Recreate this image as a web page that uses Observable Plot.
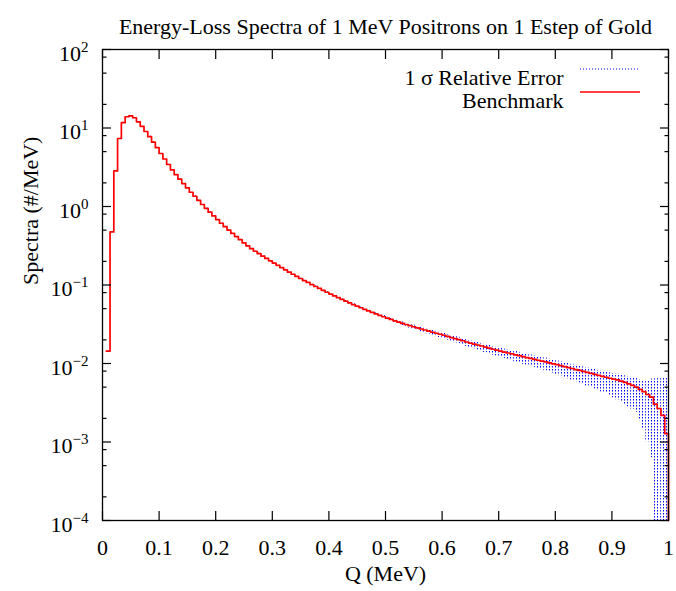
<!DOCTYPE html>
<html><head><meta charset="utf-8">
<script src="https://cdn.jsdelivr.net/npm/d3@7"></script>
<script src="https://cdn.jsdelivr.net/npm/@observablehq/plot@0.6"></script>
<style>
html,body{margin:0;padding:0;background:#fff;}
</style></head><body><div id="chart"></div>
<script>
const title = "Energy-Loss Spectra of 1 MeV Positrons on 1 Estep of Gold";
const xLabel = "Q (MeV)";
const yLabel = "Spectra (#/MeV)";
const seriesNames = ["1 \u03c3 Relative Error", "Benchmark"];
const nBins = 150;      // bins of width 1/150 MeV
const firstBin = 1;     // bin 0 is empty
// Benchmark spectrum, bins 1..149 (#/MeV)
const spectrum = [
  0.0144, 0.475, 2.84, 7.35, 11.7, 13.9, 14.3, 13.5, 12.0, 10.5,
  9.02, 7.76, 6.61, 5.62, 4.73, 4.03, 3.43, 2.92, 2.54, 2.23,
  1.96, 1.73, 1.52, 1.35, 1.20, 1.06, 0.948, 0.847, 0.759, 0.681,
  0.612, 0.553, 0.501, 0.455, 0.414, 0.378, 0.345, 0.316, 0.290, 0.269,
  0.251, 0.233, 0.218, 0.203, 0.190, 0.178, 0.166, 0.156, 0.146, 0.137,
  0.129, 0.121, 0.114, 0.108, 0.101, 0.0957, 0.0904, 0.0855, 0.0809, 0.0766,
  0.0726, 0.0689, 0.0655, 0.0622, 0.0592, 0.0564, 0.0537, 0.0513, 0.0490, 0.0468,
  0.0448, 0.0429, 0.0411, 0.0394, 0.0378, 0.0364, 0.0350, 0.0337, 0.0325, 0.0314,
  0.0303, 0.0294, 0.0284, 0.0275, 0.0267, 0.0258, 0.0250, 0.0243, 0.0236, 0.0229,
  0.0221, 0.0214, 0.0207, 0.0201, 0.0195, 0.0188, 0.0182, 0.0177, 0.0172, 0.0167,
  0.0162, 0.0157, 0.0152, 0.0148, 0.0144, 0.0140, 0.0136, 0.0133, 0.0129, 0.0126,
  0.0122, 0.0119, 0.0116, 0.0113, 0.0110, 0.0107, 0.0105, 0.0102, 0.00991, 0.00966,
  0.00940, 0.00912, 0.00887, 0.00863, 0.00838, 0.00815, 0.00793, 0.00769, 0.00748, 0.00728,
  0.00706, 0.00687, 0.00668, 0.00649, 0.00631, 0.00617, 0.00596, 0.00575, 0.00550, 0.00525,
  0.00501, 0.00468, 0.00437, 0.00403, 0.00372, 0.00303, 0.00267, 0.00219, 0.00128
];
// relative 1-sigma error, upper side of the band
const relErrUp = [
  0.01,0.01,0.01,0.01,0.01,0.01,0.01,0.01,0.01,0.01,
  0.01,0.01,0.01,0.01,0.01,0.01,0.01,0.01,0.01,0.01,
  0.012,0.012,0.012,0.012,0.012,0.012,0.012,0.012,0.012,0.012,
  0.012,0.012,0.012,0.012,0.012,0.012,0.012,0.012,0.012,0.012,
  0.015,0.015,0.015,0.015,0.015,0.015,0.015,0.015,0.015,0.015,
  0.015,0.015,0.015,0.015,0.015,0.015,0.015,0.015,0.015,0.015,
  0.02,0.02,0.02,0.02,0.02,0.02,0.02,0.02,0.02,0.02,
  0.025,0.025,0.03,0.03,0.03,0.035,0.035,0.035,0.04,0.04,
  0.04,0.045,0.045,0.05,0.05,0.05,0.055,0.055,0.06,0.06,
  0.06,0.065,0.065,0.07,0.07,0.07,0.075,0.075,0.08,0.08,
  0.08,0.085,0.085,0.09,0.09,0.09,0.095,0.095,0.10,0.10,
  0.10,0.105,0.105,0.11,0.11,0.11,0.115,0.115,0.12,0.12,
  0.12,0.125,0.13,0.13,0.135,0.14,0.14,0.145,0.15,0.15,
  0.155,0.16,0.16,0.17,0.18,0.19,0.2,0.21,0.23,0.25,
  0.28,0.32,0.38,0.5,0.7,1.1,1.4,2.0,4.0
];
// relative 1-sigma error, lower side of the band
const relErrDown = [
  0.01,0.01,0.01,0.01,0.01,0.01,0.01,0.01,0.01,0.01,
  0.01,0.01,0.01,0.01,0.01,0.01,0.01,0.01,0.01,0.01,
  0.012,0.012,0.012,0.012,0.012,0.012,0.012,0.012,0.012,0.012,
  0.012,0.012,0.012,0.012,0.012,0.012,0.012,0.012,0.012,0.012,
  0.02,0.02,0.02,0.02,0.02,0.02,0.02,0.02,0.02,0.02,
  0.02,0.02,0.02,0.02,0.02,0.02,0.02,0.02,0.02,0.02,
  0.03,0.03,0.03,0.03,0.03,0.03,0.03,0.03,0.03,0.03,
  0.035,0.04,0.04,0.045,0.045,0.05,0.05,0.055,0.06,0.06,
  0.065,0.07,0.07,0.075,0.08,0.08,0.085,0.09,0.09,0.095,
  0.10,0.10,0.11,0.11,0.12,0.12,0.13,0.13,0.14,0.14,
  0.15,0.15,0.16,0.16,0.17,0.17,0.18,0.18,0.19,0.19,
  0.20,0.20,0.21,0.21,0.22,0.22,0.23,0.23,0.24,0.25,
  0.26,0.27,0.28,0.29,0.30,0.31,0.32,0.33,0.34,0.35,
  0.36,0.37,0.38,0.40,0.42,0.44,0.46,0.48,0.49,0.50,
  0.52,0.60,0.67,0.75,0.83,1.0,1.0,1.0,1.0
];
const xTicks = [0, 0.1, 0.2, 0.3, 0.4, 0.5, 0.6, 0.7, 0.8, 0.9, 1];
const xTickLabels = ["0", "0.1", "0.2", "0.3", "0.4", "0.5", "0.6", "0.7", "0.8", "0.9", "1"];
const yMajorTicks = [1e-4, 1e-3, 1e-2, 1e-1, 1e0, 1e1, 1e2];
const yMinorMantissas = [2, 5, 8];

const yDomain = [1e-4, 1e2];
const bins = spectrum.map((v, k) => {
  const i = k + firstBin;
  return {
    q1: i / nBins, q2: (i + 1) / nBins, v,
    hi: v * (1 + relErrUp[k]),
    lo: Math.max(yDomain[0], v * (1 - relErrDown[k]))
  };
});
const lastBin = bins[bins.length - 1];
const linePts = bins.map(b => ({q: b.q1, v: b.v}));
linePts.push({q: lastBin.q2, v: lastBin.v});
linePts.push({q: lastBin.q2, v: yDomain[0]}); // histogram closes down at the end

const yMinor = [];
for (const t of yMajorTicks.slice(0, -1)) for (const m of yMinorMantissas) yMinor.push(t * m);

const FONT = "'Liberation Serif', 'Times New Roman', serif";
const blank = () => "";

const plot = Plot.plot({
  width: 676, height: 591,
  marginTop: 49, marginBottom: 71, marginLeft: 102, marginRight: 8,
  style: {fontFamily: FONT, fontSize: "22px", background: "#fff", color: "#000", overflow: "visible"},
  x: {domain: [0, 1], label: null},
  y: {type: "log", domain: yDomain, label: null},
  marks: [
    Plot.rectY(bins, {x1: "q1", x2: "q2", y1: "lo", y2: "hi", fill: "url(#sigmadots)", clip: true}),
    Plot.line(linePts, {x: "q", y: "v", curve: "step-after", stroke: "#ff0000", strokeWidth: 1.7}),
    Plot.frame({stroke: "#000", strokeWidth: 1.3}),
    Plot.axisX(xTicks, {anchor: "bottom", tickSize: -9, tickFormat: blank, strokeWidth: 1.2}),
    Plot.axisX(xTicks, {anchor: "top", tickSize: -9, tickFormat: blank, strokeWidth: 1.2}),
    Plot.axisX(xTicks, {anchor: "bottom", tickSize: 0, tickPadding: 19, fontFamily: FONT, tickFormat: d => xTickLabels[xTicks.indexOf(d)]}),
    Plot.axisY(yMajorTicks, {anchor: "left", tickSize: -9, tickFormat: blank, strokeWidth: 1.2}),
    Plot.axisY(yMajorTicks, {anchor: "right", tickSize: -9, tickFormat: blank, strokeWidth: 1.2}),
    Plot.axisY(yMinor, {anchor: "left", tickSize: -4.5, tickFormat: blank, strokeWidth: 1.2}),
    Plot.axisY(yMinor, {anchor: "right", tickSize: -4.5, tickFormat: blank, strokeWidth: 1.2}),
    Plot.axisY(yMajorTicks, {anchor: "left", tickSize: 0, tickPadding: 14, dy: 4, fontFamily: FONT, tickFormat: d => "10^" + Math.round(Math.log10(d))}),
    Plot.text([title], {frameAnchor: "top", dy: -31, text: d => d, fontSize: 22, fontFamily: FONT}),
    Plot.text([xLabel], {frameAnchor: "bottom", dy: 60, text: d => d, fontSize: 22, fontFamily: FONT}),
    Plot.text([yLabel], {frameAnchor: "left", dx: -72, rotate: -90, text: d => d, fontSize: 22, fontFamily: FONT}),
    Plot.text([seriesNames[0]], {frameAnchor: "top-right", dx: -105, dy: 20, textAnchor: "end", text: d => d, fontSize: 22, fontFamily: FONT}),
    Plot.text([seriesNames[1]], {frameAnchor: "top-right", dx: -105, dy: 43, textAnchor: "end", text: d => d, fontSize: 22, fontFamily: FONT})
  ]
});

const svg = d3.select(plot);
svg.insert("defs", ":first-child").html(
  '<pattern id="sigmadots" patternUnits="userSpaceOnUse" x="0" y="0" width="3" height="3">' +
  '<rect x="0" y="0" width="1" height="1.5" fill="#0000ff"/></pattern>');

// superscript exponents on the y tick labels
svg.selectAll("text").each(function() {
  const t = this.textContent;
  const m = /^10\^(-?\d+)$/.exec(t);
  if (!m) return;
  const el = d3.select(this);
  el.text("");
  el.append("tspan").text("10");
  el.append("tspan").attr("dy", "-9").attr("font-size", "15px").text(m[1].replace("-", "\u2212"));
});

// legend samples
const frameRight = 676 - 8, frameTop = 49;
svg.append("line").attr("x1", frameRight - 88).attr("x2", frameRight - 28).attr("y1", frameTop + 20).attr("y2", frameTop + 20)
  .attr("stroke", "#0000ff").attr("stroke-width", 1).attr("stroke-dasharray", "1,2");
svg.append("line").attr("x1", frameRight - 88).attr("x2", frameRight - 28).attr("y1", frameTop + 43).attr("y2", frameTop + 43)
  .attr("stroke", "#ff0000").attr("stroke-width", 1.7);

document.getElementById("chart").appendChild(plot);
</script></body></html>
